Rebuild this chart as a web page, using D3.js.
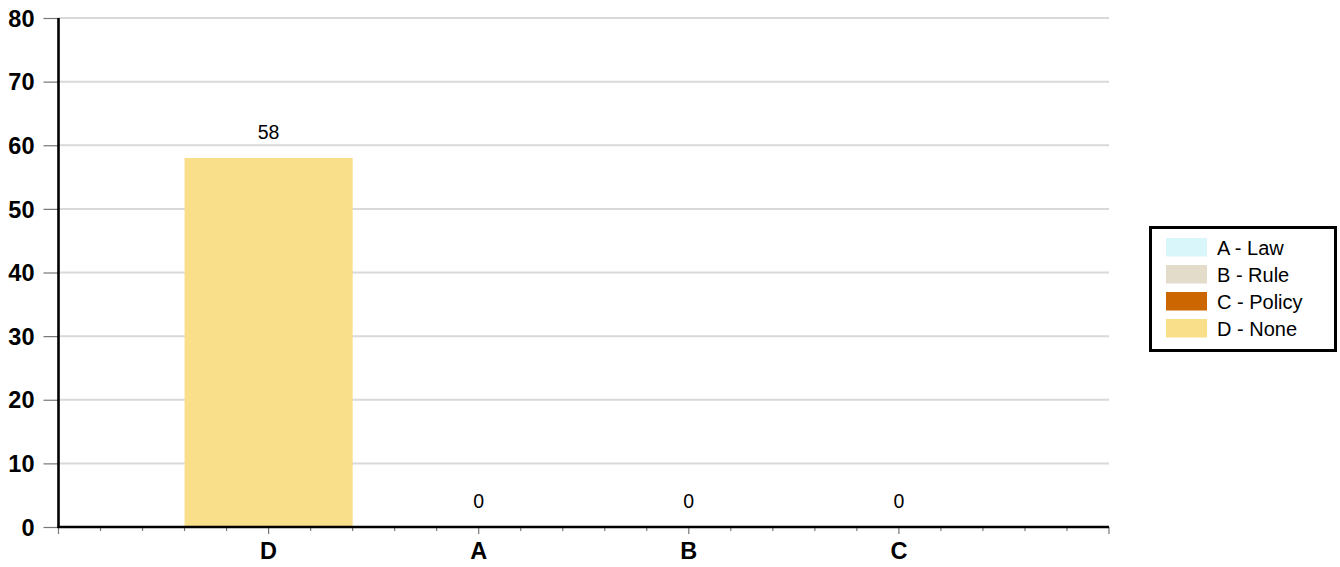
<!DOCTYPE html>
<html><head><meta charset="utf-8">
<script src="https://cdn.jsdelivr.net/npm/d3@7"></script>
<style>body{margin:0;background:#fff}svg{display:block}text{font-family:Arial,"Liberation Sans",sans-serif}</style>
</head><body><svg id="c" width="1340" height="567"></svg>
<script>
const categories = ["D","A","B","C"];
const values = [58,0,0,0];
const yTicks = [0,10,20,30,40,50,60,70,80];
const legendLabels = ["A - Law","B - Rule","C - Policy","D - None"];
const legendColors = ["#d9f7fb","#e3dccb","#cc6600","#f9df8a"];
const barColor = "#f9df8a";

const svg = d3.select("#c");
const L = 58.5, R = 1109, T = 18, B = 527;
const x = d3.scaleLinear().domain([0, categories.length + 1]).range([L, R]);
const y = d3.scaleLinear().domain([0, 80]).range([B, T]);

// gridlines
svg.append("g").selectAll("line").data(yTicks.filter(d=>d>0)).join("line")
  .attr("x1", L).attr("x2", R).attr("y1", d=>y(d)).attr("y2", d=>y(d))
  .attr("stroke", "#d9d9d9").attr("stroke-width", 2);

// y axis
const yAxis = d3.axisLeft(y).tickValues(yTicks).tickSize(15).tickPadding(9);
const gy = svg.append("g").attr("transform", `translate(${L},0)`).call(yAxis);
gy.select(".domain").remove();
gy.selectAll(".tick line").attr("stroke", "#777").attr("stroke-width", 1.2);
gy.selectAll(".tick text").attr("font-size", 23.5).attr("font-weight", "bold").attr("fill", "#000").attr("dy", "0.35em");

// bars
const barW = x(0.8) - x(0);
svg.append("g").selectAll("rect").data(values).join("rect")
  .attr("x", (d,i)=>x(i+1) - barW/2).attr("width", barW)
  .attr("y", d=>y(d)).attr("height", d=>y(0)-y(d))
  .attr("fill", barColor);

// value labels
svg.append("g").selectAll("text").data(values).join("text")
  .attr("x", (d,i)=>x(i+1)).attr("y", d=>y(d) - 19)
  .attr("text-anchor", "middle").attr("font-size", 19.5).attr("fill", "#000")
  .text(d=>d);

// x minor ticks
const minor = d3.range(0, 25.01, 1).map(k=>k/5);
svg.append("g").selectAll("line").data(minor).join("line")
  .attr("x1", d=>x(d)).attr("x2", d=>x(d)).attr("y1", B)
  .attr("y2", d=> (Math.abs(d-Math.round(d))<1e-9) ? B+7 : B+4)
  .attr("stroke", "#777").attr("stroke-width", 1.2);

// x labels
svg.append("g").selectAll("text").data(categories).join("text")
  .attr("x", (d,i)=>x(i+1)).attr("y", 559)
  .attr("text-anchor", "middle").attr("font-size", 23.5).attr("font-weight", "bold")
  .text(d=>d);

// axis lines
svg.append("line").attr("x1", L).attr("x2", L).attr("y1", T).attr("y2", B+1).attr("stroke", "#000").attr("stroke-width", 2.6);
svg.append("line").attr("x1", L-1).attr("x2", R).attr("y1", B).attr("y2", B).attr("stroke", "#000").attr("stroke-width", 2.6);

// legend
const lg = svg.append("g");
lg.append("rect").attr("x", 1150.5).attr("y", 227.5).attr("width", 185).attr("height", 123)
  .attr("fill", "#fff").attr("stroke", "#000").attr("stroke-width", 3);
const rows = lg.selectAll("g.r").data(legendLabels).join("g").attr("class","r")
  .attr("transform", (d,i)=>`translate(1166,${238 + i*27})`);
rows.append("rect").attr("width", 41).attr("height", 18.5).attr("fill", (d,i)=>legendColors[i]);
rows.append("text").attr("x", 51).attr("y", 16.5).attr("font-size", 20).text(d=>d);
</script></body></html>
